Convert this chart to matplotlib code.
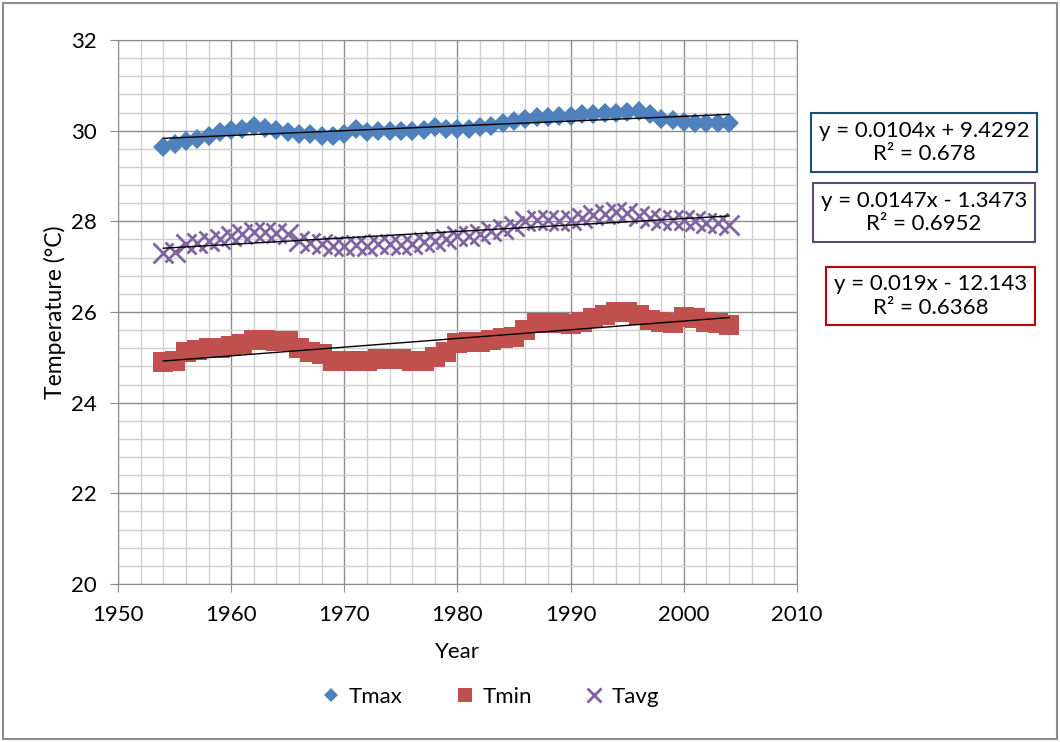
import matplotlib.pyplot as plt
import matplotlib.patches as patches
import numpy as np
from matplotlib.ticker import MultipleLocator

plt.rcParams['font.family'] = ['Lato', 'DejaVu Sans']

# data, 1954 - 2004
years = list(range(1954, 2005))
tmax = [29.63, 29.70, 29.78, 29.81, 29.89, 29.96, 30.01, 30.04, 30.11, 30.06,
        30.01, 29.96, 29.93, 29.93, 29.89, 29.89, 29.93, 30.04, 29.96, 29.99,
        30.00, 30.00, 29.99, 30.01, 30.07, 30.04, 30.04, 30.04, 30.07, 30.11,
        30.16, 30.22, 30.26, 30.30, 30.30, 30.32, 30.33, 30.36, 30.37, 30.39,
        30.39, 30.41, 30.44, 30.37, 30.26, 30.24, 30.19, 30.16, 30.16, 30.16,
        30.16]
tmin = [24.90, 24.93, 25.12, 25.17, 25.21, 25.21, 25.24, 25.30, 25.39, 25.39,
        25.37, 25.36, 25.21, 25.12, 25.07, 24.93, 24.92, 24.93, 24.93, 24.97,
        24.97, 24.97, 24.92, 24.92, 25.01, 25.12, 25.32, 25.34, 25.34, 25.38,
        25.42, 25.45, 25.60, 25.75, 25.75, 25.75, 25.73, 25.79, 25.86, 25.93,
        25.99, 26.01, 25.93, 25.82, 25.79, 25.76, 25.88, 25.86, 25.79, 25.75,
        25.72]
tavg = [27.30, 27.33, 27.49, 27.53, 27.56, 27.61, 27.67, 27.71, 27.76, 27.76,
        27.75, 27.71, 27.56, 27.53, 27.49, 27.45, 27.45, 27.47, 27.45, 27.49,
        27.49, 27.47, 27.49, 27.54, 27.56, 27.60, 27.67, 27.67, 27.71, 27.79,
        27.84, 27.90, 28.01, 28.04, 28.04, 28.01, 28.04, 28.08, 28.13, 28.16,
        28.21, 28.19, 28.12, 28.08, 28.04, 28.03, 28.04, 28.01, 27.97, 27.97,
        27.93]

# trendline labels as printed on the chart
eq_labels = ["y = 0.0104x + 9.4292\nR² = 0.678",
             "y = 0.019x - 12.143\nR² = 0.6368",
             "y = 0.0147x - 1.3473\nR² = 0.6952"]

fig = plt.figure(figsize=(10.6, 7.42), dpi=100)
ax = fig.add_axes([0.1113, 0.2129, 0.6406, 0.7332])

blue = '#4F81BD'
red = '#C0504D'
purple = '#8064A2'

ax.plot(years, tmax, linestyle='none', marker='D', markersize=10,
        color=blue, markeredgewidth=0, label='Tmax', zorder=3)
ax.plot(years, tmin, linestyle='none', marker='s', markersize=14,
        color=red, markeredgewidth=0, label='Tmin', zorder=3)
ax.plot(years, tavg, linestyle='none', marker='x', markersize=14,
        color=purple, markeredgewidth=2, label='Tavg', zorder=3)

# linear trendlines (least squares, like excel)
yr = np.array([years[0], years[-1]])
for series in [tmax, tmin, tavg]:
    m, b = np.polyfit(years, series, 1)
    ax.plot(yr, m * yr + b, color='black', linewidth=1, zorder=4)

ax.set_xlim(1950, 2010)
ax.set_ylim(20, 32)
ax.xaxis.set_major_locator(MultipleLocator(10))
ax.xaxis.set_minor_locator(MultipleLocator(2))
ax.yaxis.set_major_locator(MultipleLocator(2))
ax.yaxis.set_minor_locator(MultipleLocator(0.4))
ax.grid(which='major', color='#8C8C8C', linewidth=1)
ax.grid(which='minor', color='#D0D0D0', linewidth=1)
ax.set_axisbelow(True)
ax.tick_params(which='major', length=6, color='#8C8C8C', labelsize=16,
               pad=9)
ax.tick_params(which='minor', length=0)
for s in ax.spines.values():
    s.set_color('#8C8C8C')

ax.set_xlabel('Year', fontsize=16, labelpad=12)
ax.set_ylabel('Temperature (°C)', fontsize=16.5, labelpad=4)

leg = fig.legend(loc='center', bbox_to_anchor=(0.462, 0.061), ncol=3,
                 frameon=False, fontsize=16, markerscale=0.7,
                 handletextpad=0.3, handlelength=1.0, columnspacing=2.3)

# equation boxes
box_pos = [(0.8717, 0.808), (0.878, 0.601), (0.8717, 0.7136)]
box_col = ['#1F4E79', '#C00000', '#5F497A']
for txt, pos, c in zip(eq_labels, box_pos, box_col):
    fig.text(pos[0], pos[1], txt, ha='center', va='center', fontsize=16,
             linespacing=1.2, multialignment='center',
             bbox=dict(boxstyle='square,pad=0.35', facecolor='white',
                       edgecolor=c, linewidth=1.5))

# outer chart border
fig.patches.append(patches.Rectangle((0.003, 0.004), 0.994, 0.992,
                                     transform=fig.transFigure, fill=False,
                                     edgecolor='#8C8C8C', linewidth=1.5))

fig.savefig('out.png', dpi=100)
